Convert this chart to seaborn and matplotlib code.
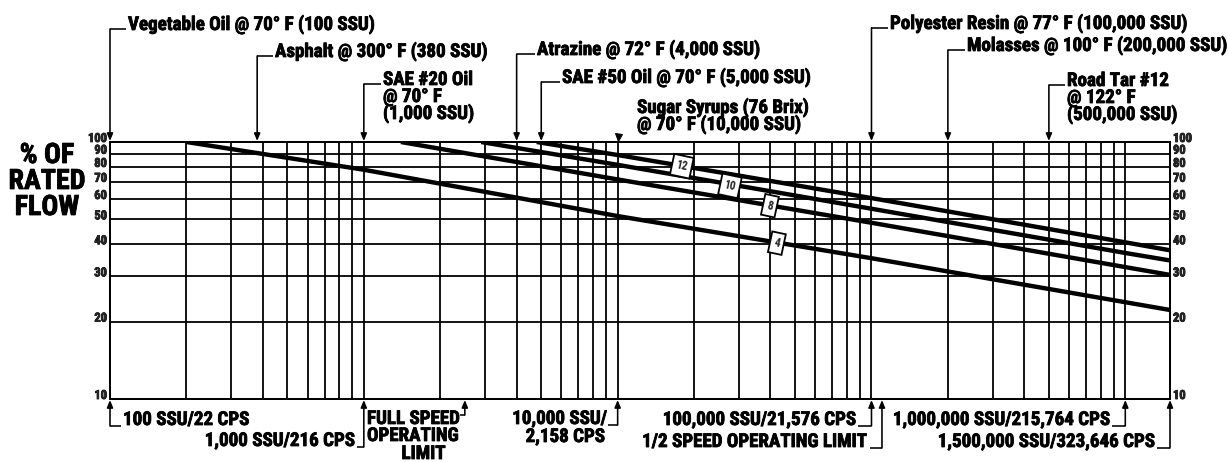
import matplotlib
matplotlib.use("Agg")
import matplotlib.pyplot as plt
import matplotlib.patheffects as pe
import pandas as pd
import seaborn as sns
from matplotlib.lines import Line2D
from matplotlib.ticker import LogLocator, NullLocator, NullFormatter, FixedLocator
from matplotlib.transforms import Affine2D

# Constants (pixel layout at 72 dpi, y measured from the top)
W, H, DPI = 1228, 462, 72
AX_LEFT, AX_RIGHT, AX_TOP, AX_BOTTOM = 110, 1170, 142, 399
INK = "black"
CURVE_WIDTH = 4.4
GRID_WIDTH = 1.8
LEADER_WIDTH = 1.6
FONT = ["Roboto Condensed", "DejaVu Sans"]
NOTE_SIZE = 19
BOTTOM_SIZE = 19
LINE_STEP = 17
HEAVY = [pe.Stroke(linewidth=0.8, foreground=INK), pe.Normal()]

# Data: % of rated flow against viscosity (SSU), one curve per pump size
ssu_range = [100, 1_500_000]
flow_range = [10, 100]
flow_ticks = [10, 20, 30, 40, 50, 60, 70, 80, 90, 100]

pump_4_ssu = [200, 1_000, 10_000, 100_000, 1_000_000, 1_500_000]
pump_4_flow = [100, 78, 51.5, 35.3, 23.8, 22.2]
pump_8_ssu = [1_400, 10_000, 100_000, 1_000_000, 1_500_000]
pump_8_flow = [100, 71.5, 48.5, 32.6, 30.4]
pump_10_ssu = [2_900, 10_000, 100_000, 1_000_000, 1_500_000]
pump_10_flow = [100, 81.5, 55, 37, 34.6]
pump_12_ssu = [4_800, 10_000, 100_000, 1_000_000, 1_500_000]
pump_12_flow = [100, 89, 60.5, 40.7, 37.9]

pump_labels = ["4", "8", "10", "12"]
label_ssu = [42_400, 39_800, 27_700, 17_900]
label_flow = [40.4, 56.5, 67.5, 80.5]

# Fluids marked along the top edge
top_ssu = [100, 380, 1_000, 4_000, 5_000, 10_000, 100_000, 200_000, 500_000]
top_lines = [
    ["Vegetable Oil @ 70° F (100 SSU)"],
    ["Asphalt @ 300° F (380 SSU)"],
    ["SAE #20 Oil", "@ 70° F", "(1,000 SSU)"],
    ["Atrazine @ 72° F (4,000 SSU)"],
    ["SAE #50 Oil @ 70° F (5,000 SSU)"],
    ["Sugar Syrups (76 Brix)", "@ 70° F (10,000 SSU)"],
    ["Polyester Resin @ 77° F (100,000 SSU)"],
    ["Molasses @ 100° F (200,000 SSU)"],
    ["Road Tar #12", "@ 122° F", "(500,000 SSU)"],
]
top_text_x = [128, 275, 383, 537, 562, 637, 890, 967, 1067]
top_baseline = [30, 57, 85, 55, 83, 113, 29, 51, 86]
top_has_leader = [True, True, True, True, True, False, True, True, True]

# Reference viscosities along the bottom edge
bottom_ssu = [100, 1_000, 2_500, 10_000, 100_000, 110_000, 1_000_000, 1_500_000]
bottom_hook_y = [426, 447, 415, 425, 426, 448, 426, 448]
bottom_hook_x = [121, 357, 460, 608, 858, 870, 1112, 1157]
bottom_texts = [
    ("100 SSU/22 CPS", 123, 425, "left"),
    ("1,000 SSU/216 CPS", 355, 446, "right"),
    ("FULL SPEED", 367, 424, "left"),
    ("OPERATING", 367, 441, "left"),
    ("LIMIT", 446, 459, "right"),
    ("10,000 SSU/", 607, 424, "right"),
    ("2,158 CPS", 605, 442, "right"),
    ("100,000 SSU/21,576 CPS", 856, 425, "right"),
    ("1/2 SPEED OPERATING LIMIT", 868, 447, "right"),
    ("1,000,000 SSU/215,764 CPS", 1110, 425, "right"),
    ("1,500,000 SSU/323,646 CPS", 1155, 447, "right"),
]

curves = pd.concat(
    [
        pd.DataFrame({"ssu": s, "flow": f, "pump": p})
        for p, s, f in [
            ("4", pump_4_ssu, pump_4_flow),
            ("8", pump_8_ssu, pump_8_flow),
            ("10", pump_10_ssu, pump_10_flow),
            ("12", pump_12_ssu, pump_12_flow),
        ]
    ],
    ignore_index=True,
)

sns.set_style("white")
plt.rcParams["font.family"] = FONT
plt.rcParams["font.weight"] = "bold"

fig = plt.figure(figsize=(W / DPI, H / DPI), dpi=DPI)
ax = fig.add_axes([AX_LEFT / W, 1 - AX_BOTTOM / H, (AX_RIGHT - AX_LEFT) / W, (AX_BOTTOM - AX_TOP) / H])
PX = Affine2D().scale(1, -1).translate(0, H)

sns.lineplot(
    data=curves, x="ssu", y="flow", units="pump", estimator=None, sort=False,
    color=INK, linewidth=CURVE_WIDTH, solid_capstyle="butt", legend=False, ax=ax,
)
ax.set_xscale("log")
ax.set_yscale("log")
ax.set_xlim(ssu_range)
ax.set_ylim(flow_range)

ax.xaxis.set_major_locator(LogLocator(base=10))
ax.xaxis.set_minor_locator(LogLocator(base=10, subs=range(2, 10), numticks=20))
ax.xaxis.set_major_formatter(NullFormatter())
ax.xaxis.set_minor_formatter(NullFormatter())
ax.yaxis.set_major_locator(FixedLocator(flow_ticks))
ax.yaxis.set_minor_locator(NullLocator())
ax.set_yticklabels([str(v) for v in flow_ticks])
ax.tick_params(axis="x", which="both", length=0)
ax.tick_params(axis="y", length=0, pad=3, labelsize=12.5, labelleft=True, labelright=True)
for lab in ax.get_yticklabels(which="both"):
    lab.set_va("baseline")
    lab.set_fontweight("bold")
    lab.set_path_effects(HEAVY)
ax.grid(which="both", axis="x", color=INK, linewidth=GRID_WIDTH)
ax.grid(which="major", axis="y", color=INK, linewidth=GRID_WIDTH)
ax.set_axisbelow(True)
ax.set_xlabel("")
ax.set_ylabel("")
for sp in ax.spines.values():
    sp.set_visible(True)
    sp.set_color(INK)
    sp.set_linewidth(2)

# size tags on the curves
for text, s, f in zip(pump_labels, label_ssu, label_flow):
    ax.text(
        s, f, text, ha="center", va="center", rotation=-12, fontsize=11.5, fontweight="bold",
        bbox=dict(boxstyle="square,pad=0.35", fc="white", ec=INK, lw=1.8), zorder=5,
    )


def sx(ssu):
    return ax.transData.transform((ssu, 10))[0]


def line(xs, ys):
    fig.add_artist(Line2D(xs, ys, transform=PX, color=INK, lw=LEADER_WIDTH, solid_capstyle="butt"))


def arrow(x, y_from, y_to):
    ax.annotate(
        "", xy=(x, y_to), xytext=(x, y_from), xycoords=PX, textcoords=PX, annotation_clip=False,
        arrowprops=dict(arrowstyle="-|>,head_length=0.6,head_width=0.25", color=INK,
                        lw=LEADER_WIDTH, shrinkA=0, shrinkB=0),
    )


def note(text, x, y, ha="left", size=NOTE_SIZE):
    fig.text(x, y, text, transform=PX, ha=ha, va="baseline", fontsize=size, fontweight="bold",
             color=INK, path_effects=HEAVY)


for s, lines, tx, base, lead in zip(top_ssu, top_lines, top_text_x, top_baseline, top_has_leader):
    x = sx(s)
    if lead:
        line([x, tx - 2], [base - 1, base - 1])
        arrow(x, base - 1, AX_TOP - 1)
    else:
        fig.add_artist(Line2D([x], [AX_TOP - 5], transform=PX, marker="v", markersize=7,
                              color=INK, linestyle="none"))
    for i, t in enumerate(lines):
        note(t, tx, base + i * LINE_STEP)

for s, hy, hx in zip(bottom_ssu, bottom_hook_y, bottom_hook_x):
    x = sx(s)
    line([hx, x], [hy, hy])
    arrow(x, hy, AX_BOTTOM + 1)

for t, x, y, ha in bottom_texts:
    note(t, x, y, ha, size=BOTTOM_SIZE)

# y-axis title
for i, t in enumerate(["% OF", "RATED", "FLOW"]):
    note(t, 47, 163 + i * 26, ha="center", size=28)

fig.savefig("out.png", dpi=DPI)
